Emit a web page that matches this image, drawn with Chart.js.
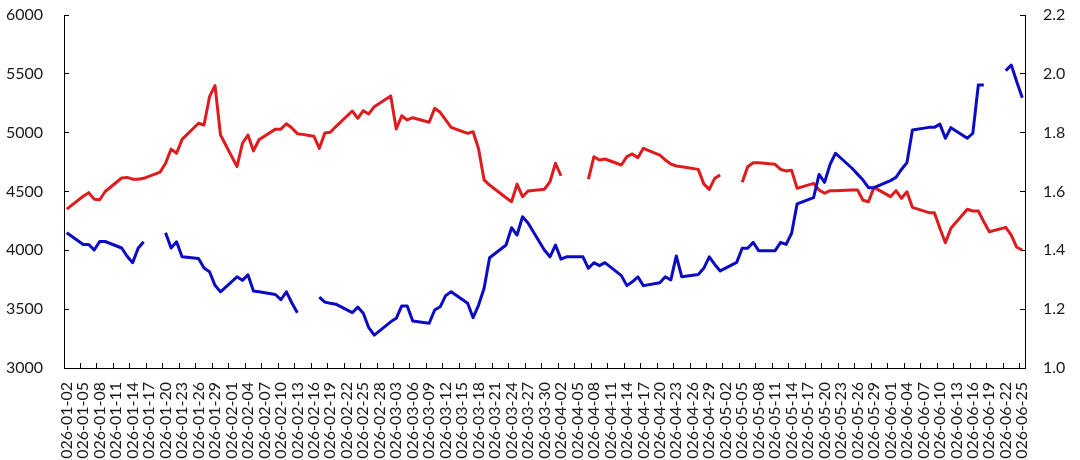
<!DOCTYPE html>
<html>
<head>
<meta charset="utf-8">
<script src="https://cdn.jsdelivr.net/npm/chart.js@4.4.1/dist/chart.umd.min.js"></script>
<style>
  html, body { margin: 0; padding: 0; background: #fff; }
  #wrap { width: 1080px; height: 460px; }
</style>
</head>
<body>
<div id="wrap"><canvas id="chart"></canvas></div>
<script>
// x axis runs over every calendar day, labelled every 3rd day
const firstDay = '2026-01-02';
const lastDay = '2026-06-25';
const labelEvery = 3;

// left axis ticks / right axis ticks
const leftTicks = [3000, 3500, 4000, 4500, 5000, 5500, 6000];
const rightTicks = [1.0, 1.2, 1.4, 1.6, 1.8, 2.0, 2.2];

// one value per weekday (Jan 2 .. Jun 25); null = missing, line breaks
const redValues = [
  4350,                               // 01-02
  4460, 4490, 4435, 4430, 4500,       // 01-05
  4615, 4620, 4605, 4605, 4612,       // 01-12
  4665, 4740, 4860, 4825, 4943,       // 01-19
  5080, 5065, 5306, 5400, 4980,       // 01-26
  4711, 4910, 4980, 4845, 4940,       // 02-02
  5030, 5030, 5076, 5040, 4992,       // 02-09
  4970, 4867, 4997, 5003, 5052,       // 02-16
  5184, 5122, 5187, 5159, 5221,       // 02-23
  5312, 5031, 5144, 5108, 5127,       // 03-02
  5088, 5207, 5173, 5108, 5045,       // 03-09
  4994, 5008, 4861, 4598, 4555,       // 03-16
  4447, 4413, 4563, 4456, 4504,       // 03-23
  4520, 4583, 4740, 4634, null,       // 03-30
  null, 4606, 4796, 4768, 4776,       // 04-06
  4725, 4796, 4819, 4787, 4867,       // 04-13
  4810, 4768, 4734, 4717, 4711,       // 04-20
  4688, 4565, 4518, 4612, 4640,       // 04-27
  null, 4578, 4711, 4745, 4745,       // 05-04
  4731, 4688, 4674, 4680, 4527,       // 05-11
  4569, 4513, 4485, 4507, 4507,       // 05-18
  4513, 4513, 4425, 4413, 4535,       // 05-25
  4456, 4507, 4442, 4498, 4365,       // 06-01
  4320, 4320, 4187, 4065, 4187,       // 06-08
  4349, 4334, 4334, 4243, 4158,       // 06-15
  4195, 4130, 4026, 4003              // 06-22
];

const blueValues = [
  1.460,                              // 01-02
  1.420, 1.420, 1.401, 1.430, 1.430,  // 01-05
  1.408, 1.380, 1.358, 1.407, 1.429,  // 01-12
  null, 1.460, 1.408, 1.429, 1.378,   // 01-19
  1.372, 1.340, 1.327, 1.281, 1.259,  // 01-26
  1.310, 1.298, 1.317, 1.262, 1.259,  // 02-02
  1.250, 1.232, 1.259, 1.221, 1.188,  // 02-09
  null, 1.241, 1.224, 1.220, 1.217,   // 02-16
  1.188, 1.207, 1.186, 1.137, 1.112,  // 02-23
  1.157, 1.169, 1.211, 1.211, 1.160,  // 03-02
  1.152, 1.197, 1.208, 1.246, 1.259,  // 03-09
  1.220, 1.171, 1.214, 1.271, 1.375,  // 03-16
  1.418, 1.477, 1.452, 1.514, 1.493,  // 03-23
  1.400, 1.378, 1.418, 1.370, 1.378,  // 03-30
  1.378, 1.339, 1.358, 1.348, 1.358,  // 04-06
  1.314, 1.280, 1.293, 1.310, 1.280,  // 04-13
  1.290, 1.310, 1.299, 1.381, 1.310,  // 04-20
  1.318, 1.339, 1.378, 1.352, 1.330,  // 04-27
  1.359, 1.407, 1.407, 1.427, 1.399,  // 05-04
  1.399, 1.427, 1.420, 1.458, 1.558,  // 05-11
  1.579, 1.658, 1.631, 1.692, 1.730,  // 05-18
  1.679, 1.659, 1.639, 1.613, 1.613,  // 05-25
  1.637, 1.648, 1.675, 1.698, 1.809,  // 06-01
  1.818, 1.818, 1.829, 1.781, 1.817,  // 06-08
  1.781, 1.798, 1.962, 1.962, null,   // 06-15
  2.011, 2.030, 1.973, 1.919          // 06-22
];

function fmt(d) {
  return d.toISOString().slice(0, 10);
}

const calendarDays = [];
const tradingDays = [];
for (let d = new Date(firstDay + 'T00:00:00Z'); fmt(d) <= lastDay; d.setUTCDate(d.getUTCDate() + 1)) {
  calendarDays.push(fmt(d));
  const wd = d.getUTCDay();
  if (wd !== 0 && wd !== 6) tradingDays.push(fmt(d));
}

const font = 'Lato';
const textColor = '#1a1a1a';

// keep the plot box fixed: no extra room for half-height of end labels
function noEndPadding(s) {
  s.paddingTop = 0;
  s.paddingBottom = 0;
}

const ctx = document.getElementById('chart').getContext('2d');
const chart = new Chart(ctx, {
  type: 'line',
  data: {
    labels: calendarDays,
    datasets: [{
      label: 'red',
      data: tradingDays.map((d, i) => ({ x: d, y: redValues[i] })),
      borderColor: '#E01B1E',
      borderWidth: 3,
      yAxisID: 'yL',
      order: 1
    }, {
      label: 'blue',
      data: tradingDays.map((d, i) => ({ x: d, y: blueValues[i] })),
      borderColor: '#0B0BC6',
      borderWidth: 3,
      yAxisID: 'yR',
      order: 0
    }]
  },
  options: {
    responsive: true,
    maintainAspectRatio: false,
    animation: false,
    spanGaps: false,
    layout: { padding: { top: 15, left: 0, right: 0, bottom: 0 } },
    elements: {
      point: { radius: 0, hoverRadius: 0 },
      line: { tension: 0, borderJoinStyle: 'round', borderCapStyle: 'butt' }
    },
    plugins: {
      legend: { display: false },
      tooltip: { enabled: false }
    },
    scales: {
      x: {
        type: 'category',
        offset: true,
        grid: {
          offset: true,
          drawOnChartArea: false,
          tickLength: -5,
          color: c => (c.index % labelEvery === 0 ? '#000' : 'rgba(0,0,0,0)')
        },
        border: { display: true, color: '#000', width: 1 },
        ticks: {
          autoSkip: false,
          minRotation: 90,
          maxRotation: 90,
          padding: 19,
          color: textColor,
          font: { family: font, size: 16 },
          callback: function (v, i) {
            return i % labelEvery === 0 ? this.getLabelForValue(v) : '';
          }
        },
        afterFit: s => { s.height = 92; }
      },
      yL: {
        position: 'left',
        min: leftTicks[0],
        max: leftTicks[leftTicks.length - 1],
        afterBuildTicks: s => { s.ticks = leftTicks.map(v => ({ value: v })); },
        grid: { drawOnChartArea: false, tickLength: -5, color: '#000' },
        border: { display: true, color: '#000', width: 1 },
        ticks: {
          padding: 26,
          color: textColor,
          font: { family: font, size: 16 },
          callback: v => String(v)
        },
        afterFit: s => { s.width = 64; noEndPadding(s); }
      },
      yR: {
        position: 'right',
        min: rightTicks[0],
        max: rightTicks[rightTicks.length - 1],
        afterBuildTicks: s => { s.ticks = rightTicks.map(v => ({ value: v })); },
        grid: { drawOnChartArea: false, tickLength: -5, color: '#000' },
        border: { display: true, color: '#000', width: 1 },
        ticks: {
          padding: 23,
          color: textColor,
          font: { family: font, size: 16 },
          callback: v => Number(v).toFixed(1)
        },
        afterFit: s => { s.width = 55; noEndPadding(s); }
      }
    }
  }
});
</script>
</body>
</html>
